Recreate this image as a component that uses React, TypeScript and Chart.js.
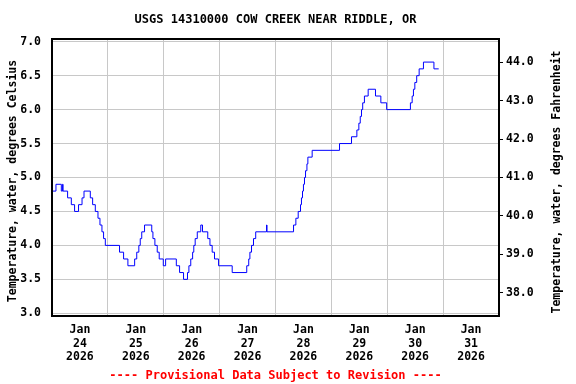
import React, { useEffect, useRef } from 'react';
import { Chart, registerables } from 'chart.js';

Chart.register(...registerables);

const TITLE = 'USGS 14310000 COW CREEK NEAR RIDDLE, OR';
const Y_LEFT_TITLE = 'Temperature, water, degrees Celsius';
const Y_RIGHT_TITLE = 'Temperature, water, degrees Fahrenheit';
const FOOTER = '---- Provisional Data Subject to Revision ----';

// Hours since 2026-01-24 00:00 at which the reading changes
const hours = [
  0, 1.7, 4.0, 4.55, 4.75, 6.7, 8.3, 9.7, 11.4, 12.9,
  13.75, 16.45, 17.45, 18.6, 19.75, 20.6, 21.45, 22.15, 22.9, 29.0,
  30.75, 32.6, 35.5, 36.4, 37.3, 37.9, 38.55, 39.75, 42.85, 43.35,
  44.2, 45.2, 46.05, 47.8, 48.8, 53.4, 54.8, 56.5, 58.2, 58.8,
  59.6, 60.4, 60.9, 61.5, 62.4, 63.9, 64.65, 66.9, 67.85, 68.8,
  69.8, 71.55, 77.4, 83.65, 84.5, 85.0, 85.7, 86.55, 87.5, 92.15,
  92.35, 103.75, 104.75, 105.75, 106.75, 107.15, 107.6, 108.0, 108.45, 108.9,
  109.5, 109.9, 111.75, 123.5, 128.65, 130.95, 131.8, 132.4, 132.95, 133.45,
  134.2, 135.8, 138.95, 141.25, 143.75, 153.95, 154.7, 155.25, 155.85, 156.65,
  157.7, 159.55, 164.05, 166.1,
];

// Water temperature, degrees Celsius
const tempC = [
  4.8, 4.9, 4.8, 4.9, 4.8, 4.7, 4.6, 4.5, 4.6, 4.7,
  4.8, 4.7, 4.6, 4.5, 4.4, 4.3, 4.2, 4.1, 4.0, 3.9,
  3.8, 3.7, 3.8, 3.9, 4.0, 4.1, 4.2, 4.3, 4.2, 4.1,
  4.0, 3.9, 3.8, 3.7, 3.8, 3.7, 3.6, 3.5, 3.6, 3.7,
  3.8, 3.9, 4.0, 4.1, 4.2, 4.3, 4.2, 4.1, 4.0, 3.9,
  3.8, 3.7, 3.6, 3.7, 3.8, 3.9, 4.0, 4.1, 4.2, 4.3,
  4.2, 4.3, 4.4, 4.5, 4.6, 4.7, 4.8, 4.9, 5.0, 5.1,
  5.2, 5.3, 5.4, 5.5, 5.6, 5.7, 5.8, 5.9, 6.0, 6.1,
  6.2, 6.3, 6.2, 6.1, 6.0, 6.1, 6.2, 6.3, 6.4, 6.5,
  6.6, 6.7, 6.6, 6.6,
];

const monthLabel = 'Jan';
const yearLabel = '2026';
const dayLabels = ['24', '25', '26', '27', '28', '29', '30', '31'];
const celsiusTicks = [3.0, 3.5, 4.0, 4.5, 5.0, 5.5, 6.0, 6.5, 7.0];
const fahrenheitTicks = [38, 39, 40, 41, 42, 43, 44];

const FONT = '"DejaVu Sans Mono", monospace';
const GRID = '#c8c8c8';

const decor = {
  id: 'decor',
  afterDraw(chart: any) {
    const { ctx, chartArea: a } = chart;
    ctx.save();
    ctx.strokeStyle = '#000';
    ctx.lineWidth = 2;
    ctx.strokeRect(a.left, a.top, a.right - a.left, a.bottom - a.top);

    ctx.fillStyle = '#000';
    ctx.textAlign = 'center';
    ctx.textBaseline = 'alphabetic';
    ctx.font = 'bold 12px ' + FONT;
    ctx.fillText(TITLE, (a.left + a.right) / 2, 23);

    ctx.font = 'bold 11.5px ' + FONT;
    ctx.save();
    ctx.translate(16, 181);
    ctx.rotate(-Math.PI / 2);
    ctx.fillText(Y_LEFT_TITLE, 0, 0);
    ctx.restore();

    ctx.save();
    ctx.translate(560, 182);
    ctx.rotate(-Math.PI / 2);
    ctx.fillText(Y_RIGHT_TITLE, 0, 0);
    ctx.restore();

    ctx.fillStyle = '#ff0000';
    ctx.font = 'bold 12px ' + FONT;
    ctx.fillText(FOOTER, (a.left + a.right) / 2, 379);
    ctx.restore();
  },
};

export default function App() {
  const ref = useRef<HTMLCanvasElement | null>(null);

  useEffect(() => {
    document.body.style.margin = '0';
    const canvas = ref.current;
    if (!canvas) return;
    const points = hours.map((h, i) => ({ x: h, y: tempC[i] }));
    const tickFont = { family: FONT, size: 11.5, weight: 'bold' as const, lineHeight: 1.2 };

    const chart = new Chart(canvas, {
      type: 'line',
      data: {
        datasets: [
          {
            data: points,
            borderColor: '#0000ff',
            borderWidth: 1,
            pointRadius: 0,
            stepped: 'before',
            fill: false,
            yAxisID: 'y',
          },
        ],
      },
      plugins: [decor],
      options: {
        animation: false,
        responsive: false,
        devicePixelRatio: 1,
        layout: { padding: { top: 39, left: 0, right: 0, bottom: 0 } },
        plugins: { legend: { display: false }, tooltip: { enabled: false }, title: { display: false } },
        scales: {
          x: {
            type: 'linear',
            min: 0,
            max: 192,
            border: { display: false },
            afterBuildTicks: (s: any) => {
              const t = [];
              for (let v = 12; v <= 180; v += 12) t.push({ value: v });
              s.ticks = t;
            },
            afterFit: (s: any) => { s.height = 68; },
            grid: {
              drawTicks: false,
              color: (c: any) => (c.tick && c.tick.value % 24 === 0 ? GRID : 'rgba(0,0,0,0)'),
              lineWidth: 1,
            },
            ticks: {
              autoSkip: false,
              maxRotation: 0,
              minRotation: 0,
              padding: 7,
              color: '#000',
              font: tickFont,
              callback: (v: any) => {
                const n = Number(v);
                if ((n - 12) % 24 !== 0) return '';
                return [monthLabel, dayLabels[(n - 12) / 24], yearLabel];
              },
            },
          },
          y: {
            type: 'linear',
            position: 'left',
            min: 2.96,
            max: 7.04,
            border: { display: false },
            afterBuildTicks: (s: any) => { s.ticks = celsiusTicks.map((v) => ({ value: v })); },
            afterFit: (s: any) => { s.width = 52; },
            grid: { drawTicks: false, color: GRID, lineWidth: 1 },
            ticks: {
              padding: 11,
              color: '#000',
              font: tickFont,
              callback: (v: any) => Number(v).toFixed(1),
            },
          },
          y2: {
            type: 'linear',
            position: 'right',
            min: 37.4,
            max: 44.6,
            border: { display: false },
            afterBuildTicks: (s: any) => { s.ticks = fahrenheitTicks.map((v) => ({ value: v })); },
            afterFit: (s: any) => { s.width = 77; },
            grid: { drawOnChartArea: false, drawTicks: true, tickLength: 4, color: '#000', lineWidth: 1 },
            ticks: {
              padding: 3,
              color: '#000',
              font: tickFont,
              callback: (v: any) => Number(v).toFixed(1),
            },
          },
        },
      },
    });
    return () => chart.destroy();
  }, []);

  return (
    <div style={{ width: 576, height: 384, background: '#fff' }}>
      <canvas ref={ref} width={576} height={384} style={{ display: 'block' }} />
    </div>
  );
}
